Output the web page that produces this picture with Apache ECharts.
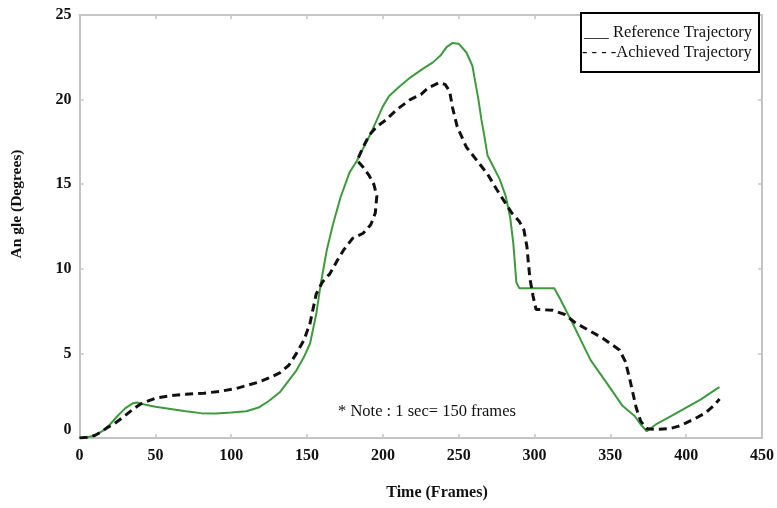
<!DOCTYPE html>
<html><head><meta charset="utf-8">
<script src="https://cdn.jsdelivr.net/npm/echarts@6/dist/echarts.min.js"></script>
<style>html,body{margin:0;padding:0;background:#fff}#c{width:777px;height:508px}</style>
</head><body><div id="c"></div>
<script>
const xTicks = [0, 50, 100, 150, 200, 250, 300, 350, 400, 450];
const yTicks = [0, 5, 10, 15, 20, 25];
const seriesNames = ['Reference Trajectory', 'Achieved Trajectory'];
const referenceFrames = [0,5,10,15,20,25,30,35,38,42,50,60,70,80,90,100,110,118,125,132,138,143,148,152,156,159,163,167,172,178,183,188,192,196,200,204,210,218,226,233,238,242,246,250,255,259,261,263,265,267,269,273,277,281,284,286,288,290,300,313,317,325,337,348,358,366,370,374,380,390,400,410,420,422];
const referenceAngles = [0,0.05,0.15,0.4,0.8,1.3,1.75,2.05,2.1,2.0,1.85,1.72,1.58,1.47,1.45,1.5,1.58,1.8,2.2,2.7,3.4,4.0,4.8,5.6,7.3,9.1,11.1,12.6,14.2,15.7,16.4,17.3,18.0,18.8,19.6,20.2,20.7,21.3,21.8,22.2,22.6,23.1,23.35,23.3,22.8,22.0,21.0,20.0,18.8,17.8,16.7,16.0,15.3,14.3,13.0,11.5,9.2,8.85,8.85,8.85,8.2,6.8,4.6,3.2,1.9,1.3,0.8,0.4,0.8,1.3,1.8,2.3,2.9,3.0];
const achievedFrames = [0,5,10,15,18,22,26,31,36,40,44,50,60,70,82,92,103,110,118,125,132,138,143,148,152,156,160,165,170,174,180,187,192,195,196,194,191,187,183,187,191,196,202,209,218,225,230,237,241,244,246,249,255,262,269,275,280,285,290,293,295,296,297,299,301,312,320,327,335,345,356,360,363,365,367,370,374,380,389,395,400,406,413,418,422];
const achievedAngles = [0,0.05,0.15,0.4,0.6,0.8,1.05,1.4,1.75,2.0,2.15,2.35,2.5,2.58,2.65,2.75,2.92,3.1,3.3,3.55,3.85,4.3,5.0,5.8,6.8,8.5,9.2,9.7,10.5,11.1,11.8,12.1,12.6,13.3,14.3,15.0,15.5,16.0,16.4,17.2,17.9,18.4,18.8,19.4,20.0,20.3,20.7,21.0,20.9,20.5,19.5,18.4,17.2,16.4,15.6,14.7,14.0,13.3,12.8,12.3,11.3,10.3,9.4,8.4,7.6,7.55,7.3,6.8,6.4,5.9,5.2,4.5,3.4,2.6,1.8,1.0,0.55,0.5,0.55,0.7,0.9,1.15,1.5,1.9,2.3];

const zip = (a, b) => a.map((v, i) => [v, b[i]]);
const serif = '"Liberation Serif", "Times New Roman", serif';
const frameCol = '#c4c4c4';
const chart = echarts.init(document.getElementById('c'), null, {renderer: 'canvas'});
const baseAxis = () => ({
  type: 'value',
  axisLine: {show: true, onZero: false, lineStyle: {color: frameCol, width: 2}},
  axisTick: {show: true, inside: true, length: 4, lineStyle: {color: frameCol, width: 1.5}},
  splitLine: {show: false}
});
const tickLabel = {color: '#111', fontFamily: serif, fontWeight: 'bold', fontSize: 16};
chart.setOption({
  animation: false,
  backgroundColor: '#fff',
  grid: {left: 79.6, right: 14, top: 15, bottom: 70},
  xAxis: [
    Object.assign(baseAxis(), {min: xTicks[0], max: xTicks[xTicks.length - 1], interval: 50, position: 'bottom',
      axisLabel: Object.assign({margin: 10}, tickLabel)}),
    Object.assign(baseAxis(), {min: xTicks[0], max: xTicks[xTicks.length - 1], interval: 50, position: 'top', axisLabel: {show: false}})
  ],
  yAxis: [
    Object.assign(baseAxis(), {min: yTicks[0], max: yTicks[yTicks.length - 1], interval: 5, position: 'left',
      axisLabel: Object.assign({margin: 8,
        formatter: v => v === 0 ? '{z|0}' : String(v),
        rich: {z: Object.assign({padding: [0, 0, 16, 0]}, tickLabel)}}, tickLabel)}),
    Object.assign(baseAxis(), {min: yTicks[0], max: yTicks[yTicks.length - 1], interval: 5, position: 'right', axisLabel: {show: false}})
  ],
  series: [
    {name: seriesNames[0], type: 'line', showSymbol: false, data: zip(referenceFrames, referenceAngles),
      lineStyle: {color: '#3f9a3f', width: 2}, z: 2},
    {name: seriesNames[1], type: 'line', showSymbol: false, data: zip(achievedFrames, achievedAngles),
      lineStyle: {color: '#111', width: 3, type: [8, 5]}, z: 3}
  ],
  graphic: [
    {type: 'text', left: 338, top: 403, style: {text: '* Note : 1 sec= 150 frames', font: '16.5px ' + serif, fill: '#111'}},
    {type: 'text', x: 437, y: 493, style: {text: 'Time (Frames)', font: 'bold 16px ' + serif, fill: '#111', textAlign: 'center', textVerticalAlign: 'middle'}},
    {type: 'text', x: 17, y: 204, rotation: Math.PI / 2, style: {text: 'An gle (Degrees)', font: 'bold 15.5px ' + serif, fill: '#111', textAlign: 'center', textVerticalAlign: 'middle'}},
    {type: 'rect', shape: {x: 581, y: 13, width: 178, height: 59}, style: {fill: '#fff', stroke: '#000', lineWidth: 2}, z: 10},
    {type: 'text', x: 584, y: 33, style: {text: '___ ' + seriesNames[0], font: '16.5px ' + serif, fill: '#111', textVerticalAlign: 'middle'}, z: 11},
    {type: 'text', x: 582, y: 53, style: {text: '- - - -' + seriesNames[1], font: '16.5px ' + serif, fill: '#111', textVerticalAlign: 'middle'}, z: 11}
  ]
});
</script></body></html>
